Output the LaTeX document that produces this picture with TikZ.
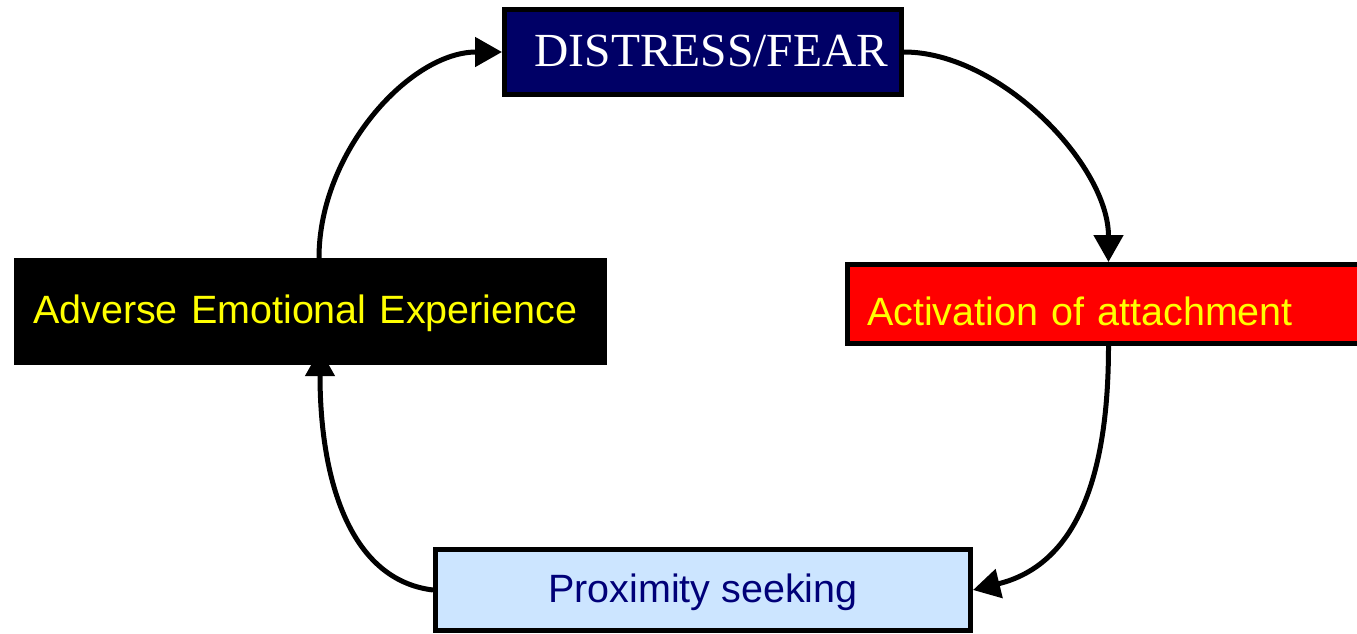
\documentclass[tikz,border=0pt]{standalone}
\usepackage{fontspec}
\setmainfont{Liberation Serif}
\newfontfamily\arialfont{Liberation Sans}
\usetikzlibrary{arrows.meta,backgrounds}

\definecolor{navyfill}{RGB}{0,0,102}
\definecolor{paleblue}{RGB}{204,229,255}
\definecolor{navytext}{RGB}{0,0,120}
\definecolor{brightyellow}{RGB}{255,255,0}

\tikzset{
  box/.style={draw=black, line width=5pt, inner sep=0pt},
  flow/.style={draw=black, line width=5pt,
    -{Triangle[length=27pt,width=29pt]}},
  sanslabel/.style={font=\arialfont\fontsize{39.5}{42}\selectfont},
}

\begin{document}
\begin{tikzpicture}[x=1pt,y=-1pt]
  \useasboundingbox (0,0) rectangle (1357,633);

  % the four stages of the cycle
  \node[box, fill=navyfill, text=white,
        minimum width=397pt, minimum height=85pt,
        text width=397pt, align=left,
        text height=32pt, text depth=4pt,
        font=\fontsize{47.5}{50}\selectfont]
    (dis) at (703,52) {\hspace*{30pt}DISTRESS/FEAR};

  \node[box, fill=red, text=brightyellow, sanslabel,
        minimum width=522pt, minimum height=79pt,
        text width=522pt, align=left,
        text height=44pt, text depth=2pt]
    (act) at (1108.5,304) {\hspace*{19.5pt}Activation of attachment};

  \node[fill=black, draw=none, inner sep=0pt, text=brightyellow, sanslabel,
        minimum width=593pt, minimum height=107pt,
        text width=593pt, align=left,
        text height=26pt, text depth=3pt]
    (adv) at (310.5,311.5) {\hspace*{19pt}Adverse Emotional Experience};

  \node[box, fill=paleblue, text=navytext, sanslabel,
        minimum width=535pt, minimum height=81pt,
        text height=27pt, text depth=3pt]
    (prox) at (703,590) {Proximity seeking};

  % curved connectors, drawn beneath the boxes
  \begin{pgfonlayer}{background}
    \draw[flow] ([xshift=8.5pt]adv.north)
      .. controls (319,152) and (410,52) .. (dis.west);
    \draw[flow] (dis.east)
      .. controls (1000,52) and (1108.5,165) .. (act.north);
    \draw[flow] (act.south)
      .. controls (1108.5,480) and (1075,565) .. (prox.east);
    \draw[flow] (prox.west)
      .. controls (350,580) and (320,480) .. ([xshift=9.5pt,yshift=16pt]adv.south);
  \end{pgfonlayer}
\end{tikzpicture}
\end{document}
